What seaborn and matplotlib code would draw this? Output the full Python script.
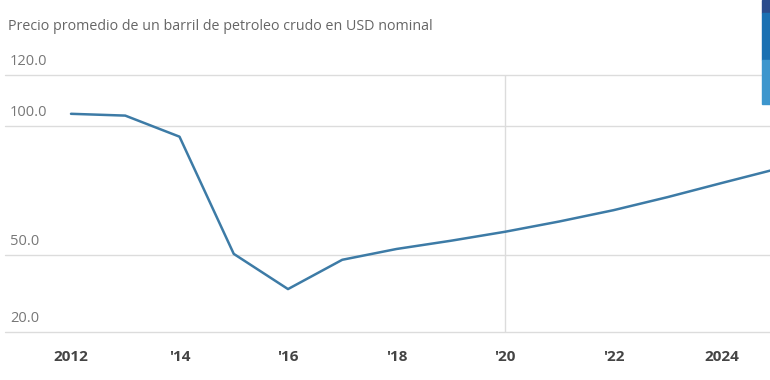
import matplotlib
matplotlib.use("Agg")
import matplotlib.pyplot as plt
import seaborn as sns
import pandas as pd
from matplotlib.patches import Rectangle
import matplotlib.transforms as mtransforms

years = [2012, 2013, 2014, 2015, 2016, 2017, 2018, 2019, 2020, 2021, 2022, 2023, 2024, 2025]
prices = [104.9, 104.2, 96.0, 50.4, 36.7, 48.1, 52.3, 55.5, 59.0, 63.0, 67.4, 72.5, 78.0, 83.4]
ytick_values = [20, 50, 100, 120]
ytick_labels = ["20.0", "50.0", "100.0", "120.0"]
xtick_values = [2012, 2014, 2016, 2018, 2020, 2022, 2024]
xtick_labels = ["2012", "'14", "'16", "'18", "'20", "'22", "2024"]
subtitle = "Precio promedio de un barril de petroleo crudo en USD nominal"

sns.set_theme(style="white")
plt.rcParams['font.family'] = ['Open Sans', 'DejaVu Sans']

df = pd.DataFrame({"year": years, "price": prices})

W, H = 770, 380
fig = plt.figure(figsize=(W / 100, H / 100), dpi=100)
left_px, right_px = 5, 770
top_px, bot_px = 75, 332
ax = fig.add_axes([left_px / W, (H - bot_px) / H, (right_px - left_px) / W, (bot_px - top_px) / H])

sns.lineplot(data=df, x="year", y="price", ax=ax, color="#3d7ba6", linewidth=1.8)

px_per_year = 54.25
x0 = 2012 - (71 - left_px) / px_per_year
x1 = 2012 + (right_px - 71) / px_per_year
ax.set_xlim(x0, x1)
ax.set_ylim(20, 120)

for s in ax.spines.values():
    s.set_visible(False)

for v in ytick_values:
    ax.axhline(v, color="#dcdcdc", linewidth=1.0, zorder=0, clip_on=False)
ax.axvline(2020, color="#dcdcdc", linewidth=1.0, zorder=0)

ax.set_yticks([])
trans = mtransforms.blended_transform_factory(ax.transAxes, ax.transData)
offset = mtransforms.offset_copy(trans, fig=fig, x=5, y=6, units='dots')
for v, lab in zip(ytick_values, ytick_labels):
    ax.text(0, v, lab, transform=offset, ha="left", va="bottom",
            fontsize=10.5, color="#777777")

ax.set_xticks(xtick_values)
ax.set_xticklabels(xtick_labels, fontsize=11, fontweight="bold", color="#444444")
ax.tick_params(axis="x", length=0, pad=13)
ax.set_xlabel("")
ax.set_ylabel("")

fig.text(8 / W, 1 - 26 / H, subtitle, ha="left", va="center", fontsize=10.3, color="#666666")

# logo blocks at top-right
fig.patches.append(Rectangle((762 / W, 1 - 13 / H), 8 / W, 13 / H, transform=fig.transFigure,
                             color="#2b4c8c", zorder=5))
fig.patches.append(Rectangle((762 / W, 1 - 60 / H), 8 / W, 47 / H, transform=fig.transFigure,
                             color="#1a70b2", zorder=5))
fig.patches.append(Rectangle((762 / W, 1 - 104 / H), 8 / W, 44 / H, transform=fig.transFigure,
                             color="#3d96cd", zorder=5))

fig.savefig("out.png", dpi=100)
